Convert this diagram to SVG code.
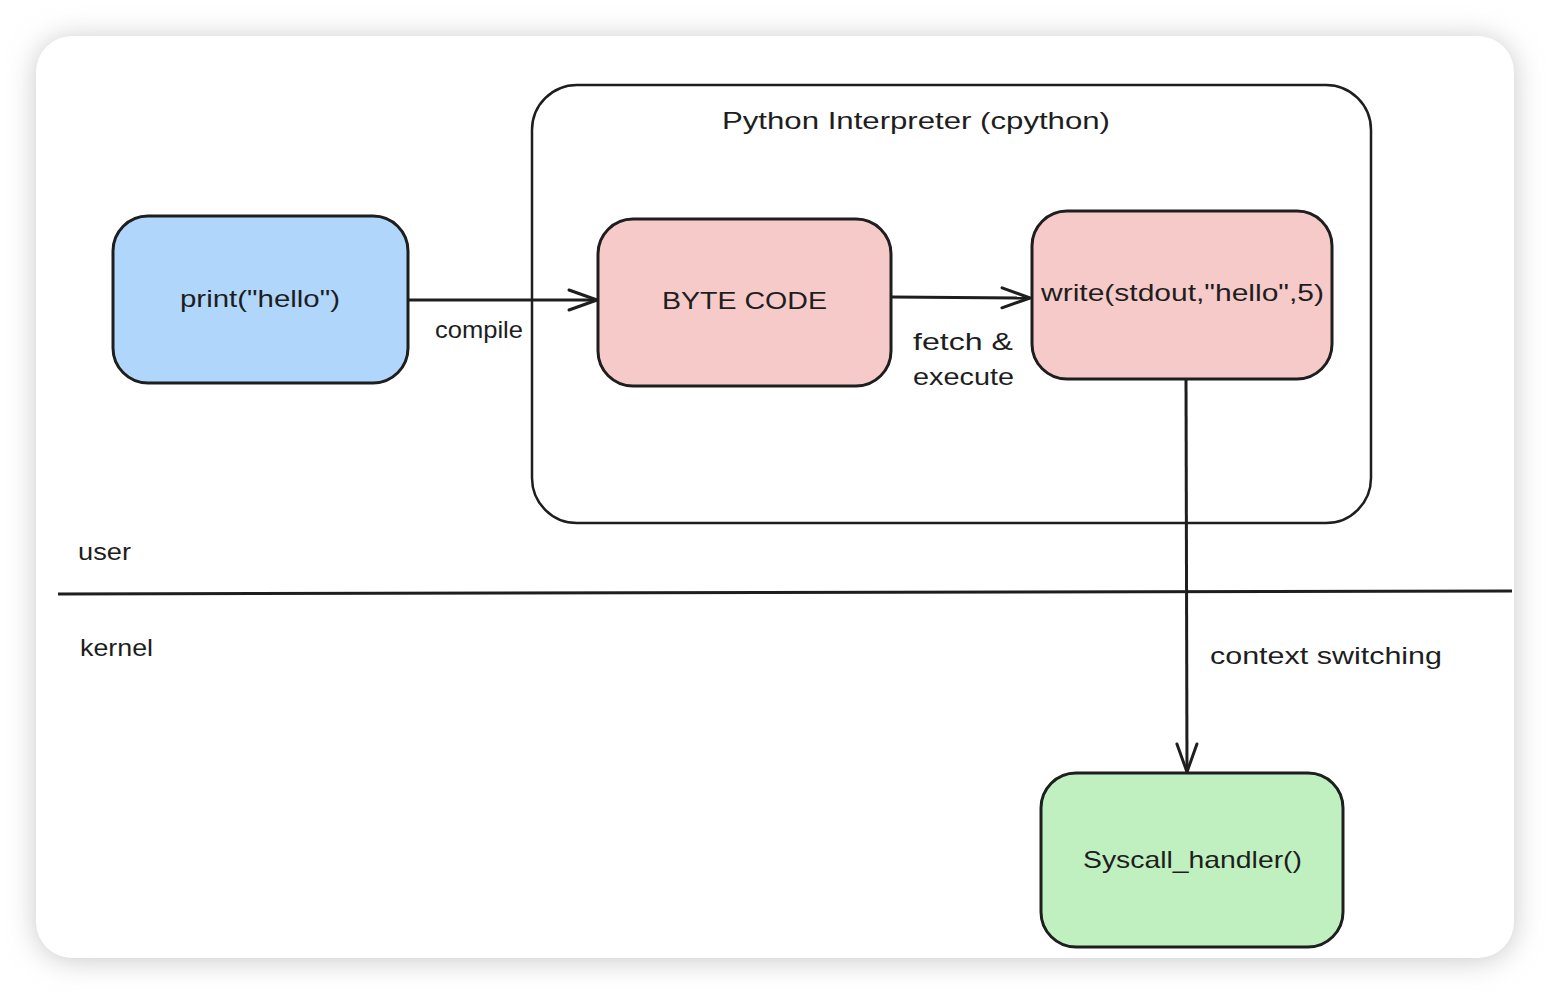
<svg xmlns="http://www.w3.org/2000/svg" width="1550" height="994" viewBox="0 0 1550 994">
<style>
.node{stroke:#1e1e1e;stroke-width:3}
.t{font-family:"Liberation Sans",Arial,sans-serif;fill:#1e1e1e;font-size:24px}
.c{text-anchor:middle}
.edge{fill:none;stroke:#1e1e1e;stroke-width:3}
</style>
<defs>
<filter id="sh" x="-10%" y="-10%" width="120%" height="120%">
<feGaussianBlur stdDeviation="14"/>
</filter>
<marker id="ah" viewBox="0 0 32 24" refX="30" refY="12" markerWidth="32" markerHeight="24" markerUnits="userSpaceOnUse" orient="auto">
<path d="M2 2 L30 12 L2 22" fill="none" stroke="#1e1e1e" stroke-width="3" stroke-linecap="round" stroke-linejoin="round"/>
</marker>
</defs>
<rect width="1550" height="994" fill="#ffffff"/>
<rect x="36" y="38" width="1478" height="922" rx="36" fill="#c8c8c8" filter="url(#sh)"/>
<rect x="36" y="36" width="1478" height="922" rx="36" fill="#ffffff"/>

<g id="container">
<rect x="532" y="85" width="839" height="438" rx="45" fill="none" stroke="#1e1e1e" stroke-width="2.5"/>
<text class="t" x="722" y="129" textLength="388" lengthAdjust="spacingAndGlyphs">Python Interpreter (cpython)</text>
</g>

<g id="divider">
<line x1="58" y1="594" x2="1512" y2="591" stroke="#1e1e1e" stroke-width="3"/>
<text class="t" x="78" y="560" textLength="53" lengthAdjust="spacingAndGlyphs">user</text>
<text class="t" x="80" y="656" textLength="73" lengthAdjust="spacingAndGlyphs">kernel</text>
</g>

<g id="edges">
<line class="edge" x1="408" y1="300" x2="597" y2="300" marker-end="url(#ah)"/>
<text class="t" x="435" y="338" textLength="88" lengthAdjust="spacingAndGlyphs">compile</text>
<line class="edge" x1="892" y1="297" x2="1030" y2="298" marker-end="url(#ah)"/>
<text class="t" x="913" y="350" textLength="100" lengthAdjust="spacingAndGlyphs">fetch &amp;</text>
<text class="t" x="913" y="385" textLength="101" lengthAdjust="spacingAndGlyphs">execute</text>
<line class="edge" x1="1186" y1="379" x2="1187" y2="772" marker-end="url(#ah)"/>
<text class="t" x="1210" y="664" textLength="232" lengthAdjust="spacingAndGlyphs">context switching</text>
</g>

<g id="node-print">
<rect class="node" x="113" y="216" width="295" height="167" rx="35" fill="#b0d7fb"/>
<text class="t" x="180" y="307" textLength="160" lengthAdjust="spacingAndGlyphs">print("hello")</text>
</g>

<g id="node-bytecode">
<rect class="node" x="598" y="219" width="293" height="167" rx="35" fill="#f7caca"/>
<text class="t" x="662" y="309" textLength="165" lengthAdjust="spacingAndGlyphs">BYTE CODE</text>
</g>

<g id="node-write">
<rect class="node" x="1032" y="211" width="300" height="168" rx="35" fill="#f7caca"/>
<text class="t" x="1041" y="301" textLength="283" lengthAdjust="spacingAndGlyphs">write(stdout,"hello",5)</text>
</g>

<g id="node-syscall">
<rect class="node" x="1041" y="773" width="302" height="174" rx="35" fill="#c0f0c0"/>
<text class="t" x="1083" y="868" textLength="219" lengthAdjust="spacingAndGlyphs">Syscall_handler()</text>
</g>
</svg>
